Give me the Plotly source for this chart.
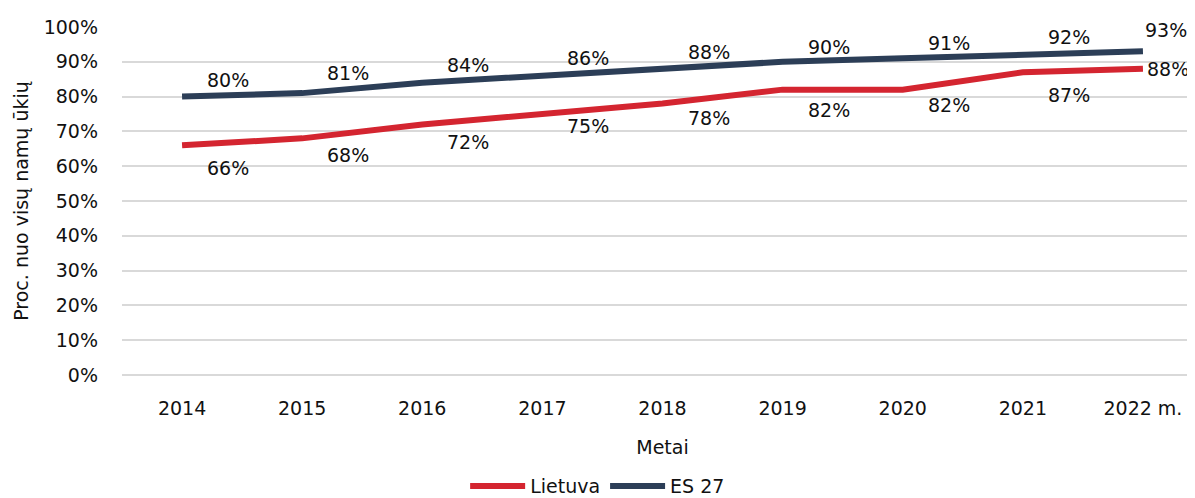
import plotly.graph_objects as go

years = ["2014", "2015", "2016", "2017", "2018", "2019", "2020", "2021", "2022 m."]
lietuva = [66, 68, 72, 75, 78, 82, 82, 87, 88]
es27 = [80, 81, 84, 86, 88, 90, 91, 92, 93]
yticks = [0, 10, 20, 30, 40, 50, 60, 70, 80, 90, 100]

FONT = "DejaVu Sans"
RED = "#D42530"
NAVY = "#2C3E57"
GRID = "#D9D9D9"

# label offsets (pixels) for the data labels
lt_dx = [46, 46, 46, 46, 46, 46, 46, 46, 25]
lt_dy = [-23, -17, -18, -12, -14, -20, -15, -23, 0]
es_dx = [46, 46, 46, 46, 46, 46, 46, 46, 23]
es_dy = [17, 20, 18, 18, 17, 15, 15, 18, 21]

fig = go.Figure()
fig.add_trace(go.Scatter(
    x=years, y=lietuva, name="Lietuva", mode="lines",
    line=dict(color=RED, width=6), cliponaxis=False,
))
fig.add_trace(go.Scatter(
    x=years, y=es27, name="ES 27", mode="lines",
    line=dict(color=NAVY, width=6), cliponaxis=False,
))

annotations = []
for i, v in enumerate(lietuva):
    annotations.append(dict(x=i, y=v, xref="x", yref="y", text=f"{v}%", showarrow=False,
                            xshift=lt_dx[i], yshift=lt_dy[i],
                            font=dict(family=FONT, size=19, color="#111")))
for i, v in enumerate(es27):
    annotations.append(dict(x=i, y=v, xref="x", yref="y", text=f"{v}%", showarrow=False,
                            xshift=es_dx[i], yshift=es_dy[i],
                            font=dict(family=FONT, size=19, color="#111")))

fig.update_layout(
    width=1195, height=498,
    margin=dict(l=114, r=0, t=19, b=131, autoexpand=False),
    paper_bgcolor="white", plot_bgcolor="white",
    font=dict(family=FONT, size=19, color="#111"),
    showlegend=True,
    annotations=annotations,
    legend=dict(orientation="h", x=0.44, xanchor="center", yref="container",
                y=0.04, yanchor="middle",
                font=dict(family=FONT, size=19), itemwidth=55),
    xaxis=dict(
        type="category", range=[-0.5, 8.5], showgrid=False, showline=False,
        ticks="", tickfont=dict(family=FONT, size=19), automargin=False,
        ticklabelstandoff=20,
        title=dict(text="Metai", font=dict(family=FONT, size=19), standoff=22),
    ),
    yaxis=dict(
        range=[0, 100], tickvals=yticks, ticktext=[f"{v}%" for v in yticks],
        showgrid=True, gridcolor=GRID, gridwidth=2,
        zeroline=True, zerolinecolor=GRID, zerolinewidth=2,
        tickfont=dict(family=FONT, size=19), ticks="", ticklabelstandoff=23,
        automargin=False,
        title=dict(text="Proc. nuo visų namų ūkių", font=dict(family=FONT, size=19), standoff=10),
    ),
)

fig.write_html("out.html")
